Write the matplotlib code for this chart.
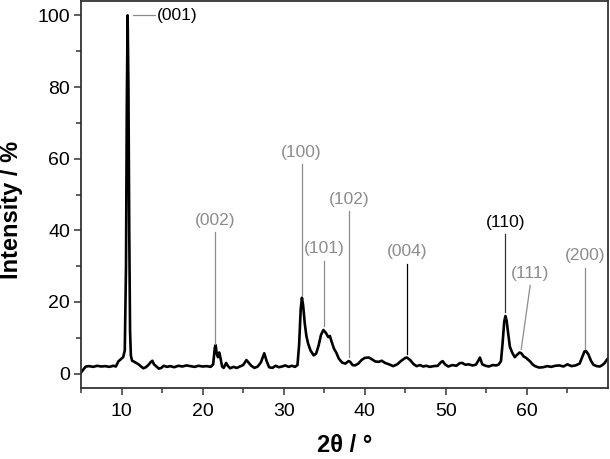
import numpy as np
import matplotlib
matplotlib.use("Agg")
import matplotlib.pyplot as plt
from matplotlib.ticker import FixedLocator, MultipleLocator

plt.rcParams['font.family'] = ['Liberation Sans', 'DejaVu Sans']

# XRD pattern (2theta in degrees, intensity in %)
two_theta = [5.0, 5.3, 5.6, 6.0, 6.5, 7.0, 7.5, 8.0, 8.5, 9.0, 9.3, 9.6, 9.9, 10.2, 10.4,
             10.55, 10.65, 10.75, 10.85, 10.95, 11.05, 11.15, 11.3, 11.5, 11.8, 12.1, 12.4,
             12.7, 13.0, 13.3, 13.6, 13.8, 14.0, 14.3, 14.6, 14.9, 15.2, 15.6, 16.0, 16.5,
             17.0, 17.5, 18.0, 18.5, 19.0, 19.5, 20.0, 20.5, 21.0, 21.3, 21.5, 21.6, 21.75,
             21.9, 22.05, 22.2, 22.4, 22.6, 22.9, 23.1, 23.4, 23.8, 24.2, 24.6, 25.0, 25.4,
             25.7, 26.0, 26.4, 26.8, 27.2, 27.6, 27.9, 28.2, 28.6, 29.0, 29.4, 29.8, 30.2,
             30.6, 31.0, 31.4, 31.7, 31.9, 32.1, 32.25, 32.4, 32.6, 32.8, 33.0, 33.3, 33.7,
             34.0, 34.3, 34.6, 34.9, 35.2, 35.5, 35.7, 35.9, 36.2, 36.5, 36.8, 37.2, 37.6,
             38.0, 38.2, 38.5, 38.8, 39.2, 39.6, 40.0, 40.5, 40.9, 41.3, 41.7, 42.1, 42.5,
             43.0, 43.5, 44.0, 44.5, 45.0, 45.2, 45.6, 46.0, 46.4, 46.8, 47.2, 47.6, 48.0,
             48.5, 49.0, 49.4, 49.6, 49.9, 50.3, 50.8, 51.3, 51.7, 52.0, 52.4, 52.8, 53.3,
             53.7, 54.0, 54.2, 54.5, 54.9, 55.3, 55.8, 56.2, 56.5, 56.8, 57.0, 57.2, 57.35,
             57.5, 57.7, 57.9, 58.2, 58.5, 58.8, 59.1, 59.3, 59.6, 59.9, 60.1, 60.4, 60.7,
             61.0, 61.5, 62.0, 62.5, 63.0, 63.5, 64.0, 64.5, 65.0, 65.5, 66.0, 66.5, 66.8,
             67.1, 67.3, 67.6, 67.9, 68.2, 68.6, 69.0, 69.3, 69.6, 69.9, 70.0]
intensity = [0.3, 1.2, 2.0, 2.1, 1.9, 2.2, 2.0, 2.1, 1.9, 2.2, 2.0, 3.4, 4.0, 4.6, 6.5,
             30, 75, 100, 80, 40, 12, 5, 3.6, 3.4, 3.0, 2.6, 2.0,
             1.5, 1.8, 2.4, 3.2, 3.6, 2.6, 2.0, 1.4, 1.6, 2.2, 1.9, 2.1, 1.8,
             2.2, 2.0, 2.3, 2.1, 1.9, 2.2, 2.0, 2.1, 1.9, 2.6, 7.2, 8.0, 5.5,
             4.6, 5.9, 4.4, 2.0, 1.6, 3.0, 2.2, 1.5, 1.9, 1.6, 2.0, 2.4, 3.8,
             3.0, 2.2, 1.6, 2.0, 3.2, 5.7, 3.5, 1.8, 1.6, 2.2, 1.8, 2.0, 2.3,
             1.9, 2.2, 1.9, 2.4, 8.0, 18.0, 21.2, 19.0, 14.0, 10.5, 8.5, 6.5, 5.1,
             5.6, 7.8, 10.8, 12.2, 11.4, 10.2, 10.5, 9.0, 7.0, 5.8, 4.2, 3.1, 2.8,
             3.5, 3.3, 2.4, 2.3, 2.8, 3.8, 4.4, 4.5, 4.0, 3.4, 3.3, 3.6, 3.0,
             2.6, 2.1, 2.6, 3.6, 4.4, 4.5, 3.8, 2.7, 2.1, 2.4, 2.0, 2.2, 1.9,
             2.1, 2.2, 3.2, 3.5, 2.6, 2.0, 2.4, 2.2, 2.9, 3.0, 2.5, 2.6, 2.3,
             2.5, 3.6, 4.5, 2.6, 2.2, 2.0, 2.4, 2.3, 2.5, 3.5, 8.5, 14.5, 16.1,
             14.8, 11.0, 7.5, 5.8, 4.6, 5.3, 5.9, 5.7, 4.8, 4.4, 4.0, 3.4, 2.6,
             2.1, 1.7, 1.8, 2.1, 1.9, 2.2, 2.3, 2.0, 2.6, 2.1, 2.3, 2.8, 4.5,
             6.2, 6.3, 5.3, 3.6, 2.5, 2.1, 2.0, 2.4, 3.0, 4.0, 4.2]

# reflections: label, peak position, peak top, label position
hkl_labels = ['(002)', '(100)', '(101)', '(102)', '(004)', '(110)', '(111)', '(200)']
hkl_pos = [21.5, 32.2, 35.0, 38.1, 45.2, 57.35, 59.3, 67.2]
hkl_top = [8.2, 21.9, 13.2, 4.6, 5.4, 17.1, 6.8, 6.8]
hkl_text_x = [21.5, 32.2, 35.06, 38.1, 45.25, 57.4, 60.4, 67.2]
hkl_text_y = [42.8, 61.8, 34.9, 48.7, 34.0, 42.3, 28.0, 32.9]
x_ticks = [10, 20, 30, 40, 50, 60]

fig = plt.figure(figsize=(6.1, 4.59), dpi=100)
ax = fig.add_axes([0.1328, 0.1547, 0.8639, 0.8431])

ax.plot(two_theta, intensity, color='black', lw=1.9, solid_joinstyle='round')

gray = '#8c8c8c'
# (001) label with horizontal leader
ax.plot([11.4, 14.1], [100, 100], color=gray, lw=0.9)
ax.text(14.35, 100, '(001)', fontsize=12.5, color='black', ha='left', va='center')

for lab, px, top, tx, ty in zip(hkl_labels, hkl_pos, hkl_top, hkl_text_x, hkl_text_y):
    if lab == '(004)':
        lc = 'black'
    elif lab == '(110)':
        lc = '#333333'
    else:
        lc = gray
    x0 = tx if lab == '(111)' else px
    ax.plot([x0, px], [ty - 3.4, top], color=lc, lw=0.9)
    ax.text(tx, ty, lab, fontsize=12.5, color='black' if lab == '(110)' else gray,
            ha='center', va='center')

ax.set_xlim(5, 70)
ax.set_ylim(-4, 104)
ax.xaxis.set_major_locator(FixedLocator(x_ticks))
ax.xaxis.set_minor_locator(FixedLocator([5, 15, 25, 35, 45, 55, 65]))
ax.yaxis.set_major_locator(MultipleLocator(20))
ax.yaxis.set_minor_locator(MultipleLocator(10))
ax.tick_params(which='both', direction='out', top=False, right=False, width=1.1, color='#333333',
               labelsize=14)
ax.tick_params(which='major', length=5)
ax.tick_params(which='minor', length=3.5)
ax.tick_params(axis='y', pad=3)
ax.tick_params(axis='x', pad=6)
for s in ax.spines.values():
    s.set_linewidth(1.3)
    s.set_color('#333333')

ax.set_xlabel('2θ / °', fontsize=17, fontweight='bold', labelpad=10)
ax.set_ylabel('Intensity / %', fontsize=17, fontweight='bold')
ax.yaxis.set_label_coords(-0.111, 0.46)

fig.savefig('out.png', dpi=100)
